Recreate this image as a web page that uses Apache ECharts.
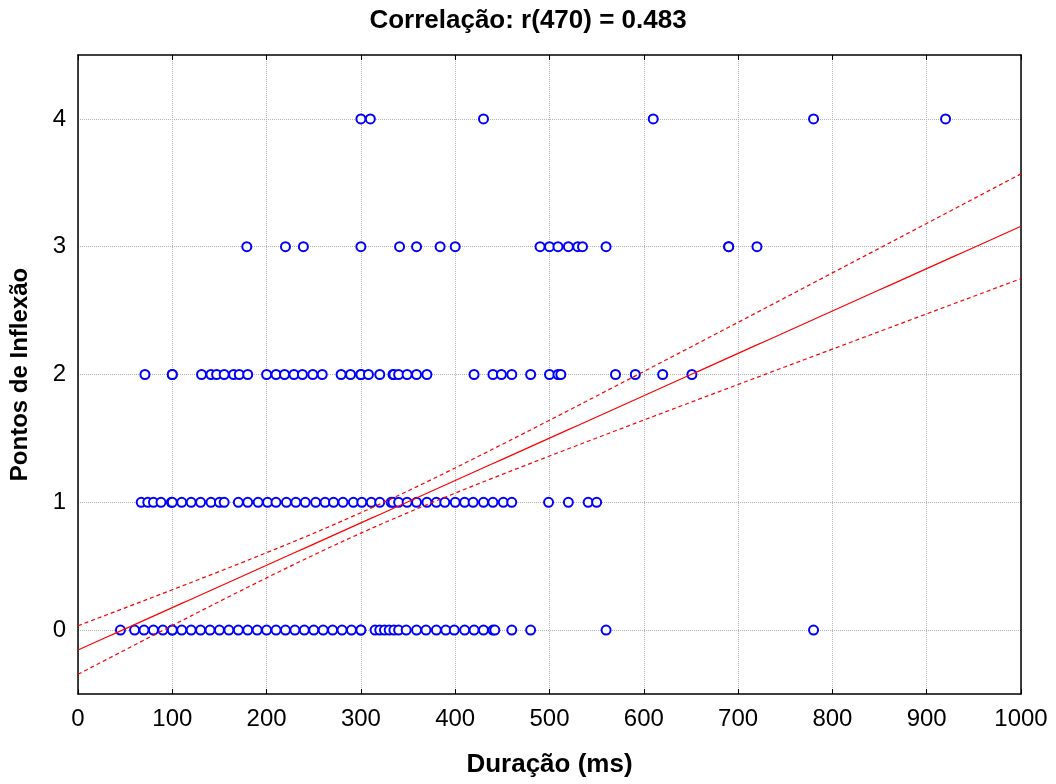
<!DOCTYPE html>
<html>
<head>
<meta charset="utf-8">
<script src="https://cdn.jsdelivr.net/npm/echarts@6/dist/echarts.min.js"></script>
<style>
  html, body { margin: 0; padding: 0; background: #fff; }
  #chart { width: 1056px; height: 784px; }
</style>
</head>
<body>
<div id="chart"></div>
<script>
// durations (ms), one list per number of inflection points
const row0 = [45, 60, 70, 80, 90, 100, 100, 110, 120, 130, 140, 150, 160, 170, 180, 190, 200, 210, 220, 230, 240, 250, 260, 270, 280, 290, 300, 300, 315, 320, 325, 330, 335, 340, 348, 359, 369, 380, 390, 399, 410, 420, 430, 440, 442, 460, 480, 560, 780];
const row1 = [67, 74, 80, 88, 99, 100, 110, 120, 130, 141, 150, 155, 170, 180, 191, 201, 210, 221, 231, 241, 252, 262, 271, 281, 292, 301, 311, 320, 332, 334, 340, 349, 359, 370, 380, 389, 400, 410, 419, 430, 440, 451, 460, 499, 520, 541, 550];
const row2 = [71, 100, 100, 131, 141, 147, 155, 165, 171, 180, 200, 210, 219, 229, 238, 249, 259, 279, 289, 300, 300, 308, 320, 334, 335, 340, 349, 359, 370, 420, 440, 449, 460, 480, 500, 509, 512, 570, 591, 620, 651];
const row3 = [179, 220, 239, 300, 341, 359, 384, 400, 490, 500, 509, 520, 530, 535, 560, 690, 690, 720];
const row4 = [300, 310, 430, 610, 780, 920];
const rows = [row0, row1, row2, row3, row4];

const xTicks = [0, 100, 200, 300, 400, 500, 600, 700, 800, 900, 1000];
const yTicks = [0, 1, 2, 3, 4];

// fitted line and 95% band
const fitIntercept = -0.156;
const fitSlope = 0.003316;
const bandA = 0.0064;     // squared half-width at the mean
const bandB = 3.3e-7;
const bandMean = 300;

const points = [];
rows.forEach((r, k) => r.forEach(x => points.push([x, k])));

const fit = [], upper = [], lower = [];
for (let x = 0; x <= 1000; x += 10) {
    const y = fitIntercept + fitSlope * x;
    const h = Math.sqrt(bandA + bandB * (x - bandMean) * (x - bandMean));
    fit.push([x, y]);
    upper.push([x, y + h]);
    lower.push([x, y - h]);
}

const chart = echarts.init(document.getElementById('chart'));
const font = 'Liberation Sans, Arial, sans-serif';
const gridLine = { show: true, lineStyle: { color: '#b4b4b4', type: 'dotted', width: 1 } };

const option = {
    animation: false,
    title: {
        text: 'Correlação: r(470) = 0.483',
        left: 'center', top: 3,
        textStyle: { fontFamily: font, fontSize: 26, fontWeight: 'bold', color: '#000' }
    },
    grid: { left: 78, right: 35, top: 55, bottom: 90 },
    xAxis: [{
        type: 'value', min: 0, max: 1000, interval: 100,
        name: 'Duração (ms)', nameLocation: 'middle', nameGap: 58,
        nameTextStyle: { fontFamily: font, fontSize: 26, fontWeight: 'bold', color: '#000' },
        axisLine: { show: true, onZero: false, lineStyle: { color: '#000', width: 1.5 } },
        axisTick: { show: true, inside: true, length: 5, lineStyle: { color: '#000' } },
        axisLabel: {
            fontFamily: font, fontSize: 24, color: '#000', margin: 13,
            formatter: v => (xTicks.indexOf(v) >= 0 ? String(v) : '')
        },
        splitLine: gridLine
    }, {
        type: 'value', min: 0, max: 1000, interval: 100, position: 'top',
        axisLine: { show: true, onZero: false, lineStyle: { color: '#000', width: 1.5 } },
        axisTick: { show: true, inside: true, length: 5, lineStyle: { color: '#000' } },
        axisLabel: { show: false },
        splitLine: { show: false }
    }],
    yAxis: [{
        type: 'value', min: -0.5, max: 4.5, interval: 0.5,
        name: 'Pontos de Inflexão', nameLocation: 'middle', nameGap: 46,
        nameTextStyle: { fontFamily: font, fontSize: 24, fontWeight: 'bold', color: '#000' },
        axisLine: { show: true, onZero: false, lineStyle: { color: '#000', width: 1.5 } },
        axisTick: { show: false },
        axisLabel: {
            fontFamily: font, fontSize: 24, color: '#000', margin: 12,
            formatter: v => (yTicks.indexOf(v) >= 0 ? String(v) : '')
        },
        splitLine: { show: true, lineStyle: { color: ['rgba(0,0,0,0)', '#b4b4b4'], type: 'dotted', width: 1 } }
    }, {
        type: 'value', min: -0.5, max: 4.5, interval: 0.5, position: 'right',
        axisLine: { show: true, onZero: false, lineStyle: { color: '#000', width: 1.5 } },
        axisTick: { show: false },
        axisLabel: { show: false },
        splitLine: { show: false }
    }],
    series: [{
        name: 'pontos', type: 'scatter', data: points,
        symbol: 'circle', symbolSize: 9,
        itemStyle: { color: '#ffffff', borderColor: '#0000ff', borderWidth: 2, opacity: 1 },
        z: 3
    }, {
        name: 'ajuste', type: 'line', data: fit, showSymbol: false,
        lineStyle: { color: '#ff0000', width: 1.2 }, z: 4
    }, {
        name: 'sup', type: 'line', data: upper, showSymbol: false,
        lineStyle: { color: '#ff0000', width: 1.2, type: [4, 3] }, z: 4
    }, {
        name: 'inf', type: 'line', data: lower, showSymbol: false,
        lineStyle: { color: '#ff0000', width: 1.2, type: [4, 3] }, z: 4
    }]
};
chart.setOption(option);
</script>
</body>
</html>
